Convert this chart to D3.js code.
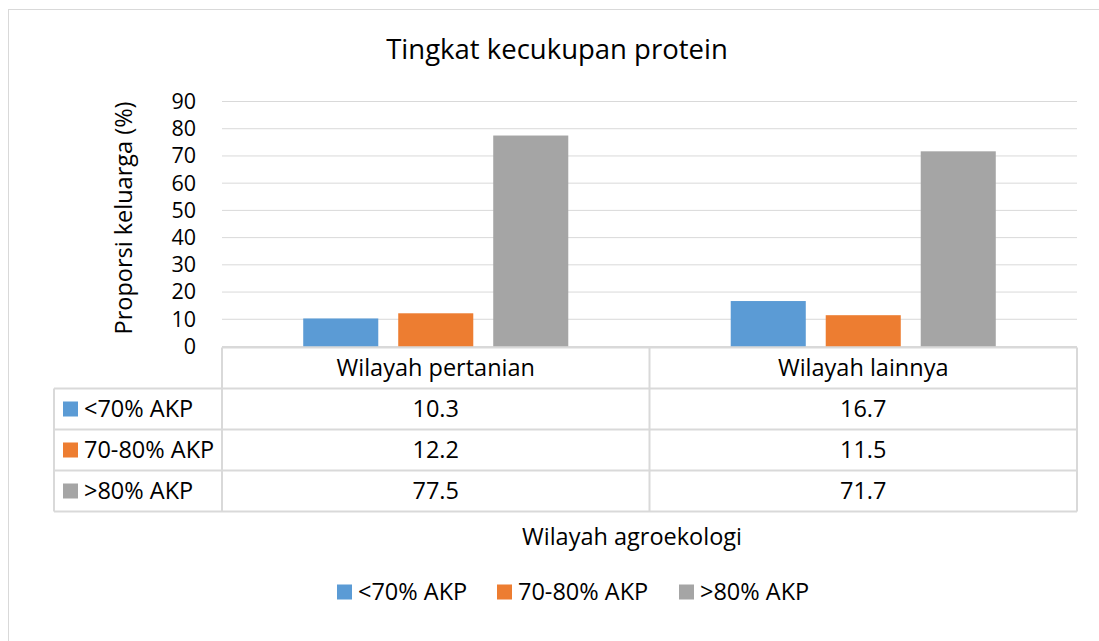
<!DOCTYPE html>
<html>
<head>
<meta charset="utf-8">
<script src="https://cdn.jsdelivr.net/npm/d3@7"></script>
<style>
body { margin: 0; background: #fff; }
text { font-family: "Open Sans", sans-serif; fill: #000; }
</style>
</head>
<body>
<div id="chart"></div>
<script>
var categories = ["Wilayah pertanian", "Wilayah lainnya"]
var seriesNames = ["<70% AKP", "70-80% AKP", ">80% AKP"]
var seriesColors = ["#5b9bd5", "#ed7d31", "#a5a5a5"]
var values = [
	[10.3, 16.7],
	[12.2, 11.5],
	[77.5, 71.7]
]
var yTicks = [0, 10, 20, 30, 40, 50, 60, 70, 80, 90]

var svg = d3.select("#chart").append("svg").attr("width", 1099).attr("height", 641)

svg.append("rect").attr("x", 8.5).attr("y", 9.5).attr("width", 1100).attr("height", 700)
	.attr("fill", "#fff").attr("stroke", "#d9d9d9")

var plotLeft = 222, plotRight = 1077, plotTop = 101.5, plotBottom = 346.5
var x = d3.scaleBand().domain(categories).range([plotLeft, plotRight])
var xs = d3.scaleBand().domain(seriesNames).range([0, x.bandwidth()]).paddingInner(0.21).paddingOuter(0.855)
var y = d3.scaleLinear().domain([0, 90]).range([plotBottom, plotTop])

// gridlines
svg.append("g").selectAll("line").data(yTicks).enter().append("line")
	.attr("x1", plotLeft).attr("x2", plotRight)
	.attr("y1", function(d){return y(d)}).attr("y2", function(d){return y(d)})
	.attr("stroke", "#d9d9d9").attr("stroke-width", 1)

var yAxis = svg.append("g").attr("transform", "translate(" + plotLeft + ",0)")
	.call(d3.axisLeft(y).tickValues(yTicks).tickSize(0).tickPadding(26))
yAxis.select(".domain").remove()
yAxis.selectAll("text").style("font-size", "21.5px").style("font-family", "Open Sans").attr("fill", "#000")

// bars
var bars = []
values.forEach(function(row, i) {
	row.forEach(function(v, j) {
		bars.push({ s: seriesNames[i], c: categories[j], v: v, color: seriesColors[i] })
	})
})
svg.append("g").selectAll("rect").data(bars).enter().append("rect")
	.attr("x", function(d){return x(d.c) + xs(d.s)})
	.attr("width", xs.bandwidth())
	.attr("y", function(d){return y(d.v)})
	.attr("height", function(d){return y(0) - y(d.v)})
	.attr("fill", function(d){return d.color})

// data table
var tableLeft = 54, rowH = 41, fs = "23.5px"
var table = svg.append("g")
var lineColor = "#d9d9d9"
table.append("line").attr("x1", plotLeft).attr("x2", plotRight).attr("y1", plotBottom + 1).attr("y2", plotBottom + 1).attr("stroke", lineColor).attr("stroke-width", 2)
for (var r = 1; r <= 4; r++) {
	table.append("line").attr("x1", tableLeft).attr("x2", plotRight)
		.attr("y1", plotBottom + 1 + rowH * r).attr("y2", plotBottom + 1 + rowH * r)
		.attr("stroke", lineColor).attr("stroke-width", 2)
}
var vlines = [plotLeft, x(categories[1]), plotRight]
vlines.forEach(function(vx) {
	table.append("line").attr("x1", vx).attr("x2", vx).attr("y1", plotBottom + 1).attr("y2", plotBottom + 1 + rowH * 4)
		.attr("stroke", lineColor).attr("stroke-width", 2)
})
table.append("line").attr("x1", tableLeft).attr("x2", tableLeft).attr("y1", plotBottom + 1 + rowH).attr("y2", plotBottom + 1 + rowH * 4)
	.attr("stroke", lineColor).attr("stroke-width", 2)

table.selectAll("text.head").data(categories).enter().append("text")
	.attr("x", function(d){return x(d) + x.bandwidth() / 2})
	.attr("y", plotBottom + 1 + rowH / 2 + 8)
	.attr("text-anchor", "middle").style("font-size", fs)
	.text(function(d){return d})

seriesNames.forEach(function(s, i) {
	var cy = plotBottom + 1 + rowH * (i + 1) + rowH / 2
	table.append("rect").attr("x", 63).attr("y", cy - 7.5).attr("width", 15).attr("height", 15).attr("fill", seriesColors[i])
	table.append("text").attr("x", 84).attr("y", cy + 8).style("font-size", fs).text(s)
	values[i].forEach(function(v, j) {
		table.append("text").attr("x", x(categories[j]) + x.bandwidth() / 2).attr("y", cy + 8)
			.attr("text-anchor", "middle").style("font-size", fs).text(v.toFixed(1))
	})
})

// titles
svg.append("text").attr("x", 557).attr("y", 59).attr("text-anchor", "middle").style("font-size", "27.5px").text("Tingkat kecukupan protein")
svg.append("text").attr("transform", "translate(132,218) rotate(-90)").attr("text-anchor", "middle").style("font-size", fs).text("Proporsi keluarga (%)")
svg.append("text").attr("x", 632).attr("y", 545).attr("text-anchor", "middle").style("font-size", fs).text("Wilayah agroekologi")

// legend
var legendX = [337, 497, 679]
var legend = svg.append("g").selectAll("g").data(seriesNames).enter().append("g")
	.attr("transform", function(d, i){return "translate(" + legendX[i] + ",592)"})
legend.append("rect").attr("y", -7.5).attr("width", 15).attr("height", 15).attr("fill", function(d, i){return seriesColors[i]})
legend.append("text").attr("x", 21).attr("y", 8).style("font-size", fs).text(function(d){return d})
</script>
</body>
</html>
